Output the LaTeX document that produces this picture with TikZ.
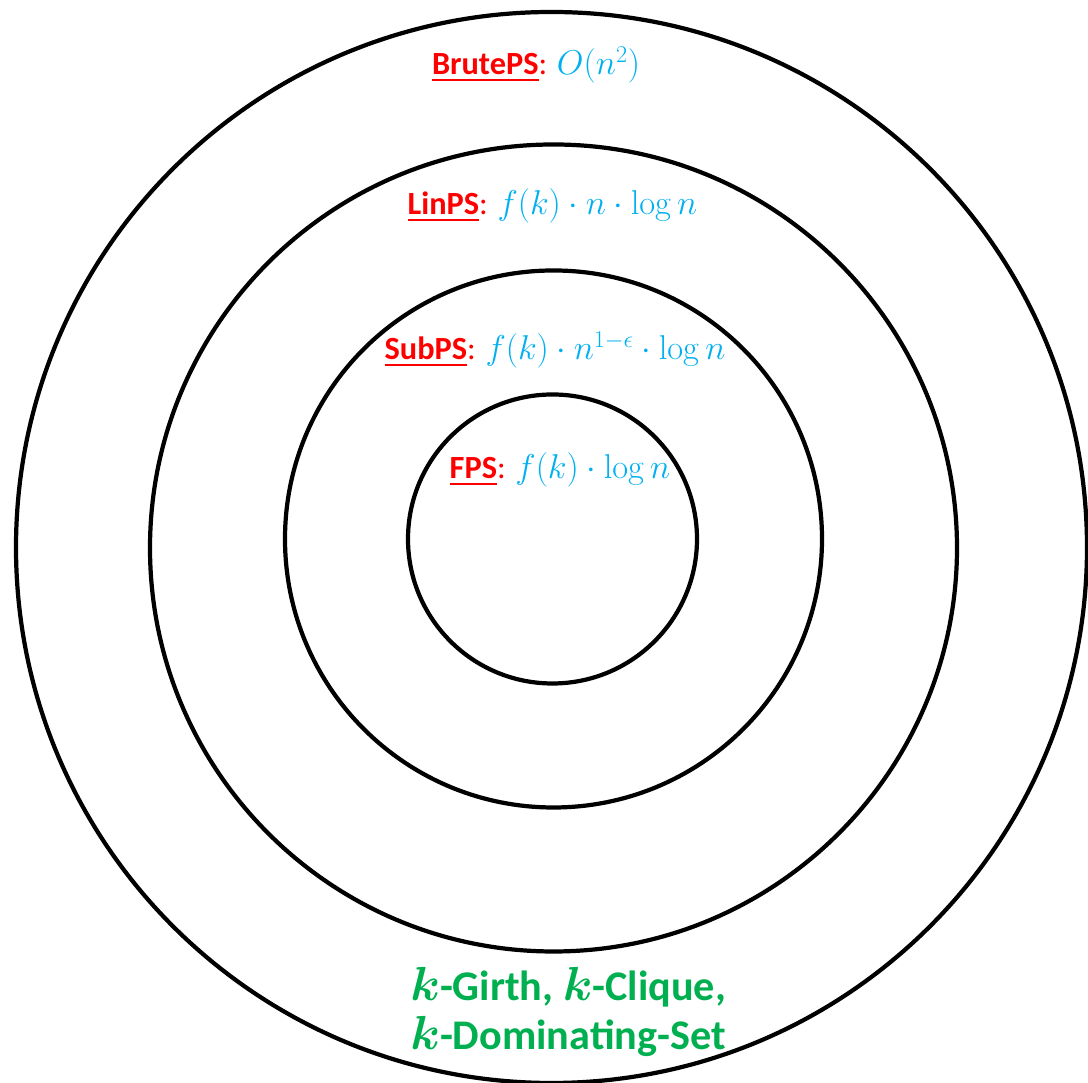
\documentclass[tikz,border=0pt]{standalone}
\usepackage{fix-cm}
\usepackage{amsmath,bm}
\usepackage[no-math]{fontspec}
\setmainfont{Carlito}
\usepackage{tikz}
\usetikzlibrary{positioning}
\definecolor{psred}{RGB}{255,0,0}
\definecolor{psblue}{RGB}{0,176,240}
\definecolor{psgreen}{RGB}{0,176,80}
\newcommand{\psul}[1]{\setbox0\hbox{#1}\rlap{\raisebox{-4.6pt}{\rule{\wd0}{2pt}}}\box0}
\newcommand{\psname}[1]{\textcolor{psred}{\psul{\textbf{#1}}:}}
\newcommand{\psbound}[1]{{\fontsize{24.5}{28}\selectfont$#1$}}
\newcommand{\kk}{{\fontsize{34}{34}\selectfont$\bm{k}$}}
\begin{document}
\begin{tikzpicture}[x=0.025cm,y=0.025cm,font=\fontsize{23}{27}\selectfont,
  ring/.style={line width=3pt},
  bound/.style={anchor=base,text=psblue}]
  \useasboundingbox (0,0) rectangle (1088,1083);
  \foreach \cx/\cy/\r in {551.5/535.5/535.5,553.5/535/403.5,553.5/544/268.5,552.5/544/144.5}
    \draw[ring] (\cx,\cy) circle (\r);
  \node[bound] (brute) at (536,1008) {\psname{BrutePS} \psbound{O(n^2)}};
  \node[bound] (lin) at (552.5,868) {\psname{LinPS} \psbound{f(k)\cdot n\cdot\log n}};
  \node[bound] (sub) at (555,723) {\psname{SubPS} \psbound{f(k)\cdot n^{1-\epsilon}\cdot\log n}};
  \node[bound] (fps) at (560,604) {\psname{FPS} \psbound{f(k)\cdot\log n}};
  \node[anchor=base west,align=left,text=psgreen,font=\fontsize{30}{35.5}\selectfont\bfseries,inner sep=0pt]
    (probs) at (410,33) {\kk-Girth, \kk-Clique,\\ \kk-Dominating-Set};
\end{tikzpicture}
\end{document}
